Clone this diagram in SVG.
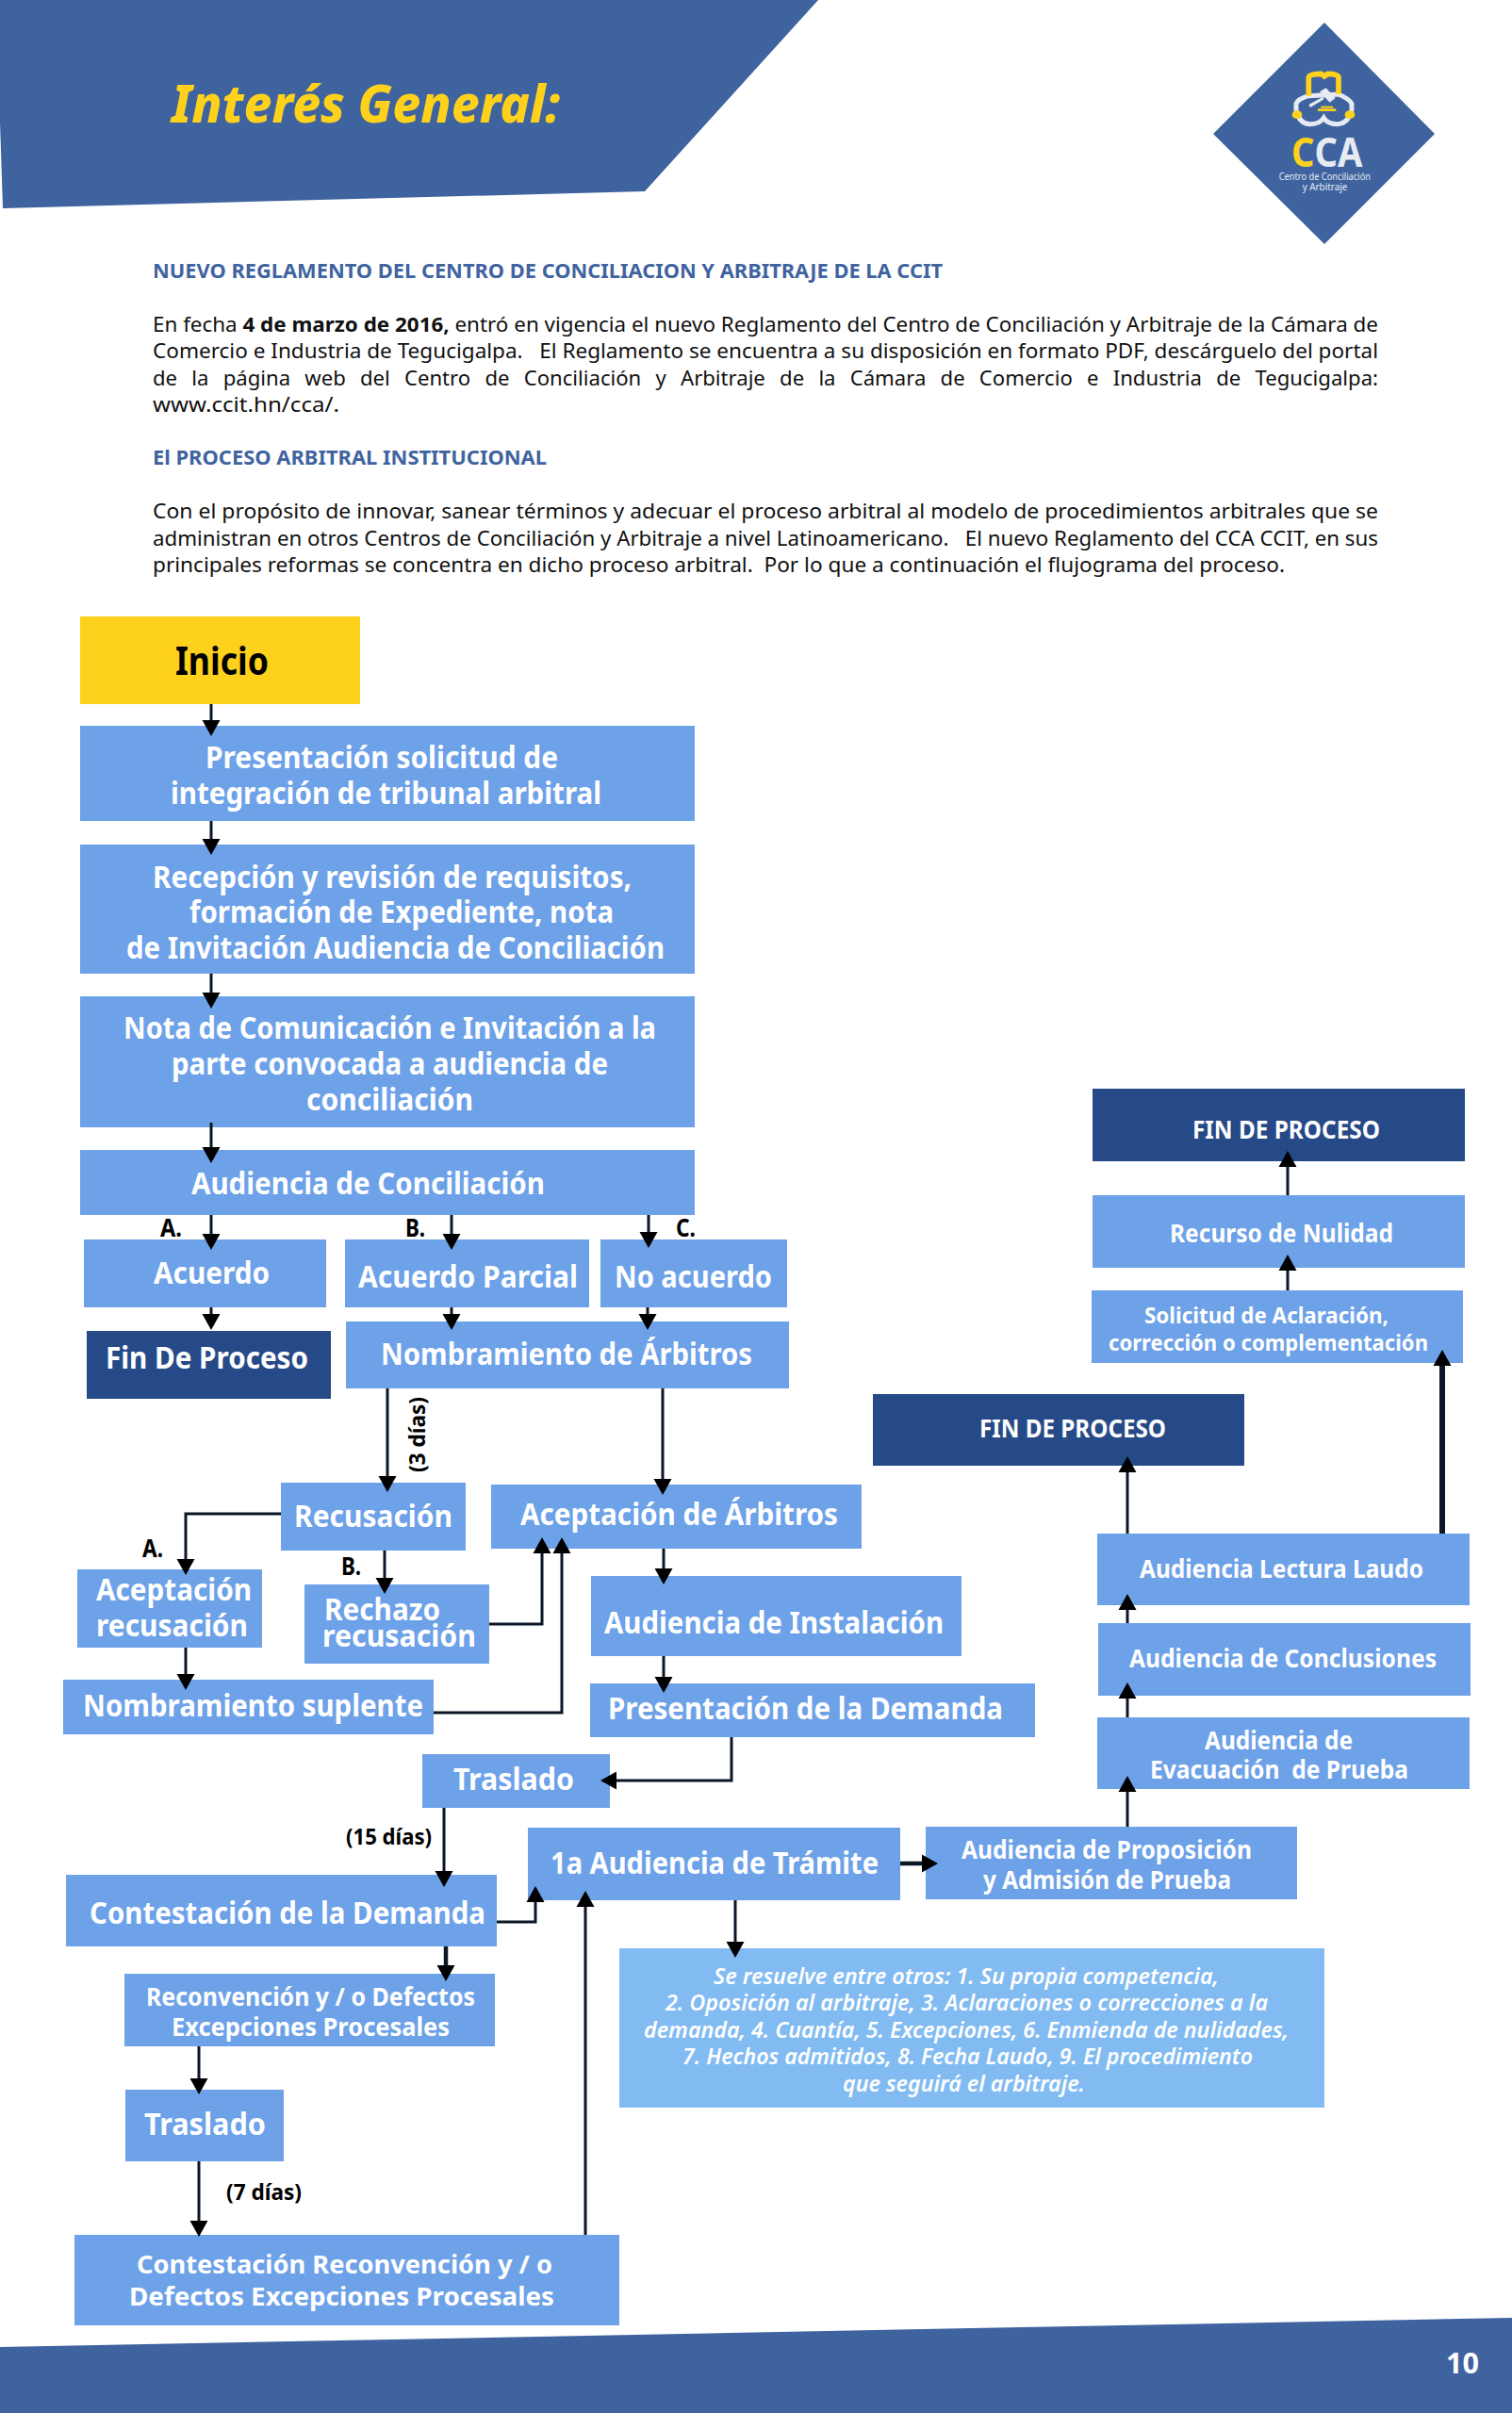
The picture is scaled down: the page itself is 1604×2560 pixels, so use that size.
<svg xmlns="http://www.w3.org/2000/svg" width="1604" height="2560" viewBox="0 0 1604 2560">
<style>
text{font-family:"Noto Sans","Open Sans","Liberation Sans",sans-serif;white-space:pre}
.box{fill:#6da1e8}.dark{fill:#264a87}.lite{fill:#82bbf2}
.w{fill:#fff;font-weight:700}.k{fill:#000;font-weight:700}
.s36{font-size:33px}.s32{font-size:32px}.s28{font-size:27px}.s24{font-size:24px}
.b{fill:#111;font-size:21px}.h{fill:#3f639f;font-size:22px;font-weight:700}
.c{fill:none;stroke:#0b1626;stroke-width:3;marker-end:url(#a)}
.t{stroke-width:4.5}
</style>
<defs><marker id="a" markerUnits="userSpaceOnUse" markerWidth="18" markerHeight="20" refX="9" refY="10" orient="auto"><path d="M0,0.5 L17,10 L0,19.5 z" fill="#000"/></marker></defs>
<rect width="1604" height="2560" fill="#fff"/>
<g id="header">
<polygon points="0,0 868,0 684,203 3,221 0,130" fill="#3f639f"/>
<text x="182" y="130" font-size="55" font-weight="800" font-style="italic" fill="#fdd11c" textLength="412" lengthAdjust="spacingAndGlyphs">Interés General:</text>
</g>
<g id="logo">
<polygon points="1405,24 1522,142 1405,259 1287,142" fill="#3f639f"/>
<g transform="translate(1260,10) scale(0.3333)">
<path d="M345,320 L345,300 Q350,285 385,275 L480,270 Q515,285 522,300 L522,320 Q510,365 475,365 Q445,365 433,345 Q420,365 390,365 Q355,365 345,320 Z" fill="none" stroke="#e6ebf3" stroke-width="15"/>
<path d="M385,275 L385,215 Q390,205 425,205 L435,213 L445,205 Q478,205 480,215 L480,270" fill="none" stroke="#fdd11c" stroke-width="17"/>
<ellipse cx="348" cy="335" rx="16" ry="13" fill="#fdd11c"/><ellipse cx="516" cy="335" rx="16" ry="13" fill="#fdd11c"/>
<polygon points="420,262 440,250 470,282 452,296" fill="#e6ebf3"/><polygon points="385,303 430,278 434,286 390,312" fill="#e6ebf3"/>
<rect x="414" y="316" width="58" height="8" fill="#fdd11c"/><rect x="424" y="308" width="38" height="6" fill="#fdd11c"/>
<text x="330" y="500" font-size="128" font-weight="700" textLength="226" lengthAdjust="spacingAndGlyphs" fill="#e6ebf3"><tspan fill="#fdd11c">C</tspan>CA</text>
<text x="290" y="543" font-size="30" fill="#e6ebf3" textLength="292" lengthAdjust="spacingAndGlyphs">Centro de Conciliación</text>
<text x="365" y="575" font-size="30" fill="#e6ebf3" textLength="143" lengthAdjust="spacingAndGlyphs">y Arbitraje</text>
</g>
</g>
<g id="intro">
<text class="h" x="162" y="295" textLength="838" lengthAdjust="spacingAndGlyphs">NUEVO REGLAMENTO DEL CENTRO DE CONCILIACION Y ARBITRAJE DE LA CCIT</text>
<text class="b" x="162" y="352" textLength="1300" lengthAdjust="spacingAndGlyphs">En fecha <tspan font-weight="700">4 de marzo de 2016,</tspan> entró en vigencia el nuevo Reglamento del Centro de Conciliación y Arbitraje de la Cámara de</text>
<text class="b" x="162" y="380" textLength="1300" lengthAdjust="spacingAndGlyphs">Comercio e Industria de Tegucigalpa.   El Reglamento se encuentra a su disposición en formato PDF, descárguelo del portal</text>
<text class="b" x="162" y="409" textLength="1300" lengthAdjust="spacingAndGlyphs" word-spacing="9">de la página web del Centro de Conciliación y Arbitraje de la Cámara de Comercio e Industria de Tegucigalpa:</text>
<text class="b" x="162" y="437" textLength="198" lengthAdjust="spacingAndGlyphs">www.ccit.hn/cca/.</text>
<text class="h" x="162" y="493" textLength="418" lengthAdjust="spacingAndGlyphs">El PROCESO ARBITRAL INSTITUCIONAL</text>
<text class="b" x="162" y="550" textLength="1300" lengthAdjust="spacingAndGlyphs">Con el propósito de innovar, sanear términos y adecuar el proceso arbitral al modelo de procedimientos arbitrales que se</text>
<text class="b" x="162" y="579" textLength="1300" lengthAdjust="spacingAndGlyphs">administran en otros Centros de Conciliación y Arbitraje a nivel Latinoamericano.   El nuevo Reglamento del CCA CCIT, en sus</text>
<text class="b" x="162" y="607" textLength="1201" lengthAdjust="spacingAndGlyphs">principales reformas se concentra en dicho proceso arbitral.  Por lo que a continuación el flujograma del proceso.</text>
</g>
<g id="n-inicio"><rect x="85" y="654" width="297" height="93" fill="#fdd11c"/><text class="k" x="186" y="716" font-size="41" textLength="99" lengthAdjust="spacingAndGlyphs">Inicio</text></g>
<g id="n-presentacion"><rect class="box" x="85" y="770" width="652" height="101"/><text class="w s32" x="218" y="815" textLength="374" lengthAdjust="spacingAndGlyphs">Presentación solicitud de</text><text class="w s32" x="181" y="853" textLength="457" lengthAdjust="spacingAndGlyphs">integración de tribunal arbitral</text></g>
<g id="n-recepcion"><rect class="box" x="85" y="896" width="652" height="137"/><text class="w s32" x="162" y="942" textLength="508" lengthAdjust="spacingAndGlyphs">Recepción y revisión de requisitos,</text><text class="w s32" x="201" y="979" textLength="450" lengthAdjust="spacingAndGlyphs">formación de Expediente, nota</text><text class="w s32" x="134" y="1017" textLength="571" lengthAdjust="spacingAndGlyphs">de Invitación Audiencia de Conciliación</text></g>
<g id="n-nota"><rect class="box" x="85" y="1057" width="652" height="139"/><text class="w s32" x="131" y="1102" textLength="565" lengthAdjust="spacingAndGlyphs">Nota de Comunicación e Invitación a la</text><text class="w s32" x="182" y="1140" textLength="463" lengthAdjust="spacingAndGlyphs">parte convocada a audiencia de</text><text class="w s32" x="325" y="1178" textLength="177" lengthAdjust="spacingAndGlyphs">conciliación</text></g>
<g id="n-audconc"><rect class="box" x="85" y="1220" width="652" height="69"/><text class="w s32" x="203" y="1267" textLength="375" lengthAdjust="spacingAndGlyphs">Audiencia de Conciliación</text></g>
<g id="n-acuerdo"><rect class="box" x="89" y="1315" width="257" height="72"/><text class="w s32" x="163" y="1362" textLength="123" lengthAdjust="spacingAndGlyphs">Acuerdo</text></g>
<g id="n-parcial"><rect class="box" x="366" y="1315" width="259" height="72"/><text class="w s32" x="380" y="1366" textLength="233" lengthAdjust="spacingAndGlyphs">Acuerdo Parcial</text></g>
<g id="n-noacuerdo"><rect class="box" x="637" y="1315" width="198" height="72"/><text class="w s32" x="652" y="1366" textLength="167" lengthAdjust="spacingAndGlyphs">No acuerdo</text></g>
<g id="n-fin0"><rect class="dark" x="92" y="1412" width="259" height="72"/><text class="w s32" x="112" y="1452" textLength="215" lengthAdjust="spacingAndGlyphs">Fin De Proceso</text></g>
<g id="n-nombramiento"><rect class="box" x="367" y="1402" width="470" height="71"/><text class="w s32" x="404" y="1448" textLength="394" lengthAdjust="spacingAndGlyphs">Nombramiento de Árbitros</text></g>
<g id="n-recusacion"><rect class="box" x="298" y="1573" width="196" height="72"/><text class="w s32" x="312" y="1620" textLength="168" lengthAdjust="spacingAndGlyphs">Recusación</text></g>
<g id="n-aceptarb"><rect class="box" x="521" y="1575" width="393" height="68"/><text class="w s32" x="552" y="1618" textLength="337" lengthAdjust="spacingAndGlyphs">Aceptación de Árbitros</text></g>
<g id="n-aceprec"><rect class="box" x="82" y="1665" width="196" height="83"/><text class="w s32" x="102" y="1698" textLength="165" lengthAdjust="spacingAndGlyphs">Aceptación</text><text class="w s32" x="102" y="1736" textLength="161" lengthAdjust="spacingAndGlyphs">recusación</text></g>
<g id="n-rechazo"><rect class="box" x="323" y="1681" width="196" height="84"/><text class="w s32" x="344" y="1719" textLength="123" lengthAdjust="spacingAndGlyphs">Rechazo</text><text class="w s32" x="342" y="1747" textLength="163" lengthAdjust="spacingAndGlyphs">recusación</text></g>
<g id="n-instalacion"><rect class="box" x="627" y="1672" width="393" height="85"/><text class="w s32" x="641" y="1733" textLength="360" lengthAdjust="spacingAndGlyphs">Audiencia de Instalación</text></g>
<g id="n-suplente"><rect class="box" x="67" y="1782" width="393" height="58"/><text class="w s32" x="88" y="1821" textLength="361" lengthAdjust="spacingAndGlyphs">Nombramiento suplente</text></g>
<g id="n-demanda"><rect class="box" x="626" y="1786" width="472" height="57"/><text class="w s32" x="645" y="1824" textLength="419" lengthAdjust="spacingAndGlyphs">Presentación de la Demanda</text></g>
<g id="n-traslado1"><rect class="box" x="448" y="1861" width="199" height="57"/><text class="w s32" x="481" y="1899" textLength="128" lengthAdjust="spacingAndGlyphs">Traslado</text></g>
<g id="n-contestacion"><rect class="box" x="70" y="1989" width="457" height="76"/><text class="w s32" x="95" y="2041" textLength="420" lengthAdjust="spacingAndGlyphs">Contestación de la Demanda</text></g>
<g id="n-tramite"><rect class="box" x="560" y="1939" width="395" height="77"/><text class="w s32" x="584" y="1988" textLength="348" lengthAdjust="spacingAndGlyphs">1a Audiencia de Trámite</text></g>
<g id="n-reconvencion"><rect class="box" x="132" y="2094" width="393" height="77"/><text class="w s28" x="155" y="2128" textLength="349" lengthAdjust="spacingAndGlyphs">Reconvención y / o Defectos</text><text class="w s28" x="182" y="2160" textLength="295" lengthAdjust="spacingAndGlyphs">Excepciones Procesales</text></g>
<g id="n-traslado2"><rect class="box" x="133" y="2217" width="168" height="76"/><text class="w s32" x="153" y="2265" textLength="129" lengthAdjust="spacingAndGlyphs">Traslado</text></g>
<g id="n-contrec"><rect class="box" x="79" y="2371" width="578" height="96"/><text class="w s28" x="145" y="2412" textLength="441" lengthAdjust="spacingAndGlyphs">Contestación Reconvención y / o</text><text class="w s28" x="137" y="2446" textLength="451" lengthAdjust="spacingAndGlyphs">Defectos Excepciones Procesales</text></g>
<g id="n-resuelve"><rect class="lite" x="657" y="2067" width="748" height="169"/>
<g font-style="italic"><text fill="#fff" font-size="23" font-weight="600" x="757" y="2105" textLength="536" lengthAdjust="spacingAndGlyphs">Se resuelve entre otros: 1. Su propia competencia,</text><text fill="#fff" font-size="23" font-weight="600" x="706" y="2133" textLength="639" lengthAdjust="spacingAndGlyphs">2. Oposición al arbitraje, 3. Aclaraciones o correcciones a la</text><text fill="#fff" font-size="23" font-weight="600" x="683" y="2162" textLength="684" lengthAdjust="spacingAndGlyphs">demanda, 4. Cuantía, 5. Excepciones, 6. Enmienda de nulidades,</text><text fill="#fff" font-size="23" font-weight="600" x="724" y="2190" textLength="605" lengthAdjust="spacingAndGlyphs">7. Hechos admitidos, 8. Fecha Laudo, 9. El procedimiento</text><text fill="#fff" font-size="23" font-weight="600" x="894" y="2219" textLength="257" lengthAdjust="spacingAndGlyphs">que seguirá el arbitraje.</text></g></g>
<g id="n-proposicion"><rect class="box" x="982" y="1938" width="394" height="77"/><text class="w s28" x="1020" y="1972" textLength="308" lengthAdjust="spacingAndGlyphs">Audiencia de Proposición</text><text class="w s28" x="1043" y="2004" textLength="263" lengthAdjust="spacingAndGlyphs">y Admisión de Prueba</text></g>
<g id="n-evacuacion"><rect class="box" x="1164" y="1822" width="395" height="76"/><text class="w s28" x="1278" y="1856" textLength="157" lengthAdjust="spacingAndGlyphs">Audiencia de</text><text class="w s28" x="1220" y="1887" textLength="274" lengthAdjust="spacingAndGlyphs">Evacuación  de Prueba</text></g>
<g id="n-conclusiones"><rect class="box" x="1165" y="1722" width="395" height="77"/><text class="w s28" x="1198" y="1769" textLength="326" lengthAdjust="spacingAndGlyphs">Audiencia de Conclusiones</text></g>
<g id="n-lectura"><rect class="box" x="1164" y="1627" width="395" height="76"/><text class="w s28" x="1209" y="1674" textLength="301" lengthAdjust="spacingAndGlyphs">Audiencia Lectura Laudo</text></g>
<g id="n-fin2"><rect class="dark" x="926" y="1479" width="394" height="76"/><text class="w s28" x="1039" y="1525" textLength="198" lengthAdjust="spacingAndGlyphs">FIN DE PROCESO</text></g>
<g id="n-solicitud"><rect class="box" x="1158" y="1369" width="394" height="77"/><text class="w s24" x="1214" y="1404" textLength="259" lengthAdjust="spacingAndGlyphs">Solicitud de Aclaración,</text><text class="w s24" x="1176" y="1433" textLength="339" lengthAdjust="spacingAndGlyphs">corrección o complementación</text></g>
<g id="n-nulidad"><rect class="box" x="1159" y="1268" width="395" height="77"/><text class="w s28" x="1241" y="1318" textLength="237" lengthAdjust="spacingAndGlyphs">Recurso de Nulidad</text></g>
<g id="n-fin1"><rect class="dark" x="1159" y="1155" width="395" height="77"/><text class="w s28" x="1265" y="1208" textLength="199" lengthAdjust="spacingAndGlyphs">FIN DE PROCESO</text></g>
<g id="connectors">
<path class="c" d="M224,747V773"/><path class="c" d="M224,871V899"/><path class="c" d="M224,1033V1062"/><path class="c" d="M224,1191V1226"/>
<path class="c" d="M224,1289V1318"/><path class="c" d="M479,1289V1318"/><path class="c" d="M688,1289V1316"/>
<path class="c" d="M224,1387V1403"/><path class="c" d="M479,1387V1403"/><path class="c" d="M687,1387V1403"/>
<path class="c" d="M411,1473V1575"/><path class="c" d="M703,1473V1578"/>
<path class="c" d="M298,1606H197V1663"/><path class="c" d="M408,1645V1683"/>
<path class="c" d="M519,1723H575V1639"/><path class="c" d="M460,1817H596V1639"/>
<path class="c" d="M704,1643V1673"/><path class="c" d="M704,1757V1788"/>
<path class="c" d="M776,1843V1889H645"/><path class="c" d="M197,1748V1785"/>
<path class="c" d="M471,1918V1994"/><path class="c" d="M527,2039H568V2009"/><path class="c t" d="M473,2065V2094"/>
<path class="c" d="M211,2171V2214"/><path class="c" d="M211,2293V2365"/><path class="c" d="M621,2371V2014"/>
<path class="c" d="M780,2016V2069"/><path class="c t" d="M955,1977H987"/>
<path class="c" d="M1196,1938V1892"/><path class="c" d="M1196,1822V1793"/><path class="c" d="M1196,1722V1699"/><path class="c" d="M1196,1627V1553"/>
<path class="c" style="stroke-width:6" d="M1530,1627V1440"/><path class="c" d="M1366,1369V1339"/><path class="c" d="M1366,1268V1229"/>
</g>
<g id="labels">
<text class="k s28" x="170" y="1312" textLength="23" lengthAdjust="spacingAndGlyphs">A.</text>
<text class="k s28" x="430" y="1312" textLength="21" lengthAdjust="spacingAndGlyphs">B.</text>
<text class="k s28" x="717" y="1312" textLength="21" lengthAdjust="spacingAndGlyphs">C.</text>
<text class="k s28" x="151" y="1652" textLength="22" lengthAdjust="spacingAndGlyphs">A.</text>
<text class="k s28" x="362" y="1671" textLength="21" lengthAdjust="spacingAndGlyphs">B.</text>
<text class="k" font-size="23" transform="translate(451,1562) rotate(-90)" textLength="80" lengthAdjust="spacingAndGlyphs">(3 días)</text>
<text class="k" font-size="23" x="367" y="1957" textLength="91" lengthAdjust="spacingAndGlyphs">(15 días)</text>
<text class="k" font-size="23" x="240" y="2334" textLength="80" lengthAdjust="spacingAndGlyphs">(7 días)</text>
</g>
<g id="footer"><polygon points="0,2490 1604,2459 1604,2560 0,2560" fill="#3f639f"/><text class="w" x="1534" y="2518" font-size="30" textLength="35" lengthAdjust="spacingAndGlyphs">10</text></g>
</svg>
